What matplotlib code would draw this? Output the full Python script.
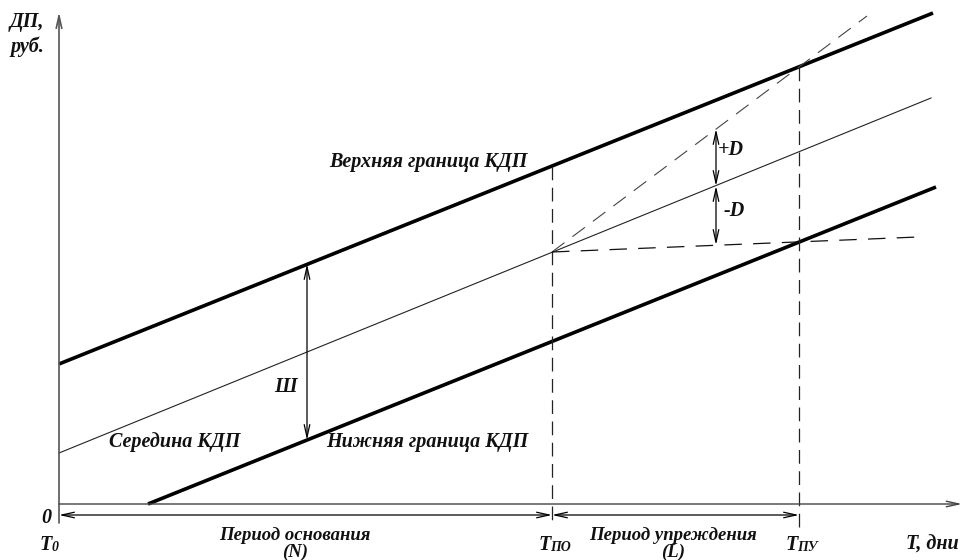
import matplotlib
matplotlib.use("Agg")
import matplotlib.pyplot as plt

# schematic units: x = days from T0, y = ДП (arbitrary)
T0 = 0
T_po = 493     # end of base period
T_pu = 740     # end of forecast period
x_end = 903
y_top = 492

# corridor lines (start / end points)
upper_x = [0, 874]
upper_y = [140, 491]
mid_x = [0, 872]
mid_y = [51, 406]
lower_x = [89, 877]
lower_y = [0, 317]

# forecast dashed rays from the mid point at T_po
fc_up_x = [493, 808]
fc_up_y = [252, 488]
fc_low_x = [493, 859]
fc_low_y = [252, 267]

# measuring arrows
w_x = 248
w_y = [240, 64]
d_x = 657
d_y = [375, 318, 259]

plt.rcParams['font.family'] = ['Liberation Serif', 'DejaVu Serif']

fig = plt.figure(figsize=(9.65, 5.6), dpi=100)
ax = fig.add_axes([0, 0, 1, 1])
ax.set_xlim(-59, 965 - 59)
ax.set_ylim(504 - 560, 504)
ax.axis('off')

fnt = dict(fontsize=14.5, fontweight='bold', fontstyle='italic', color='#111111')
fnt_p = dict(fnt, fontsize=13.5)

def arrow(x0, y0, x1, y1, style='<->', lw=0.9, color='black'):
    ax.annotate('', xy=(x1, y1), xytext=(x0, y0),
                arrowprops=dict(arrowstyle=style + ',head_length=0.9,head_width=0.2',
                                lw=lw, color=color, shrinkA=0, shrinkB=0))

# axes
arrow(0, -19, 0, y_top, style='->', lw=1.2, color='#555555')
arrow(0, 0, x_end, 0, style='->', lw=1.0, color='#444444')

# corridor
ax.plot(upper_x, upper_y, color='black', lw=2.6, solid_capstyle='butt')
ax.plot(lower_x, lower_y, color='black', lw=2.6, solid_capstyle='butt')
ax.plot(mid_x, mid_y, color='#222222', lw=0.8)

# vertical dashed lines at T_po and T_pu
k_up = (upper_y[1] - upper_y[0]) / (upper_x[1] - upper_x[0])
dash = (0, (11, 6))
ax.plot([T_po, T_po], [upper_y[0] + k_up * T_po, -23],
        color='#222222', lw=0.9, linestyle=dash)
ax.plot([T_pu, T_pu], [upper_y[0] + k_up * T_pu, -23],
        color='#222222', lw=0.9, linestyle=dash)

# forecast rays
ax.plot(fc_up_x, fc_up_y, color='#444444', lw=0.8, linestyle=(0, (14, 9)))
ax.plot(fc_low_x, fc_low_y, color='#111111', lw=0.9, linestyle=(0, (14, 9)))

# width arrow and deviation arrows
arrow(w_x, w_y[0], w_x, w_y[1])
arrow(d_x, d_y[0], d_x, d_y[1])
arrow(d_x, d_y[1], d_x, d_y[2])

# period arrows under the axis
arrow(T0, -11, T_po, -11)
arrow(T_po, -11, T_pu, -11)

# labels
ax.text(-49, 482, 'ДП,', ha='left', va='center', **fnt)
ax.text(-49, 457, 'руб.', ha='left', va='center', **fnt)
ax.text(-13, -14, '0', ha='center', va='center', **fnt)

def tsub(x, y, sub):
    ax.text(x, y, 'T', ha='center', va='center', **fnt)
    ax.annotate(sub, xy=(x, y), xytext=(4, -2), textcoords='offset points',
                ha='left', va='center', fontsize=10, fontweight='bold',
                fontstyle='italic', color='#111111')

tsub(-13, -41, '0')
tsub(486, -41, 'ПО')
tsub(733, -41, 'ПУ')
ax.text(873, -41, 'T, дни', ha='center', va='center', **fnt)

ax.text(236, -23, 'Период основания', ha='center', va='top', **fnt_p)
ax.text(236, -40, '(N)', ha='center', va='top', **fnt_p)
ax.text(614, -23, 'Период упреждения', ha='center', va='top', **fnt_p)
ax.text(614, -40, '(L)', ha='center', va='top', **fnt_p)

ax.text(369, 342, 'Верхняя граница КДП', ha='center', va='center', **fnt)
ax.text(368, 62, 'Нижняя граница КДП', ha='center', va='center', **fnt)
ax.text(116, 62, 'Середина КДП', ha='center', va='center', **fnt)
ax.text(226, 117, 'Ш', ha='center', va='center', **fnt)
ax.text(672, 354, '+D', ha='center', va='center', **fnt)
ax.text(675, 293, '-D', ha='center', va='center', **fnt)

fig.savefig('out.png', dpi=100)
